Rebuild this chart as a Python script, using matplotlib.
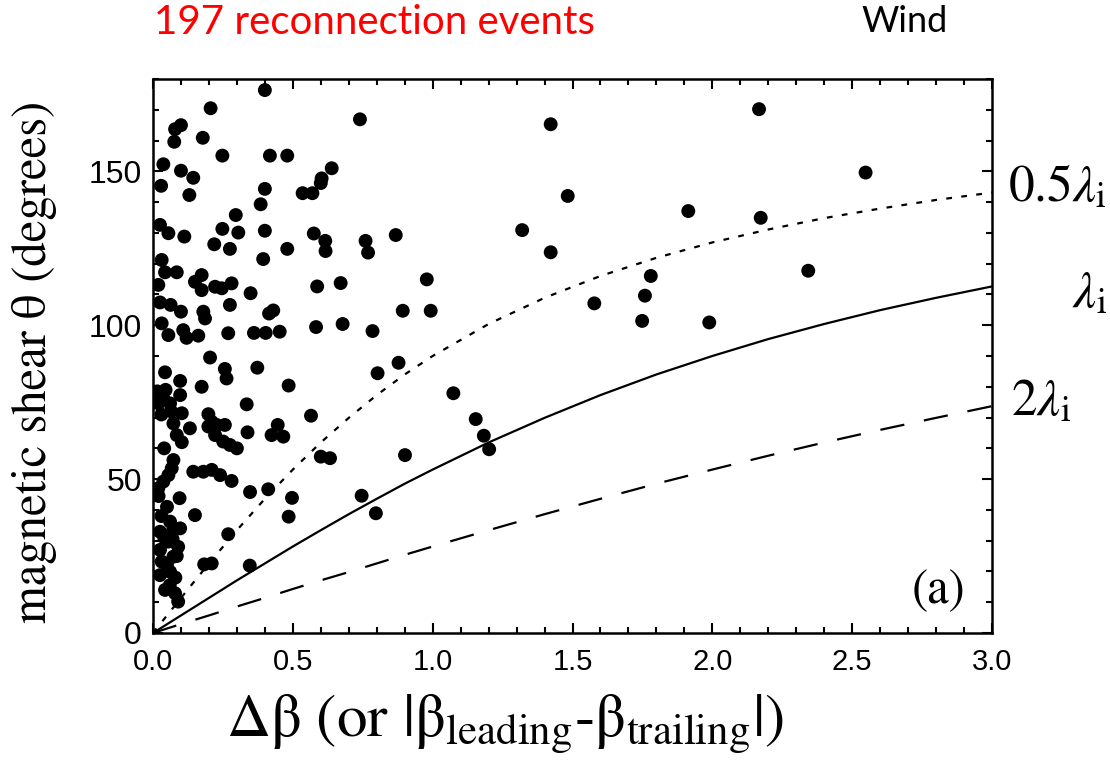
import matplotlib
matplotlib.use('Agg')
import numpy as np
import matplotlib.pyplot as plt
from matplotlib.ticker import MultipleLocator

# scatter: delta beta vs magnetic shear (degrees)
delta_beta = [
    0.40, 0.206, 0.10, 0.079, 0.076, 0.178, 0.248, 0.418, 0.48, 0.037,
    0.10, 0.144, 0.029, 0.13, 0.40, 0.385, 0.296, 0.639, 0.603, 0.60,
    0.535, 0.57, 0.74, 0.868, 0.394, 0.48, 0.575, 0.616, 0.617, 0.76,
    0.769, 0.587, 0.671, 0.583, 0.678, 0.785, 0.415, 0.43, 0.361, 0.403,
    0.453, 0.269, 0.275, 0.349, 0.204, 0.025, 0.055, 0.112, 0.248, 0.305,
    0.219, 0.275, 0.40, 0.031, 0.043, 0.085, 0.174, 0.15, 0.174, 0.222,
    0.246, 0.281, 0.019, 0.025, 0.063, 0.10, 0.18, 0.186, 0.031, 0.055,
    0.108, 0.12, 0.162, 0.043, 0.097, 0.257, 0.263, 0.373, 0.174, 0.485,
    0.019, 0.037, 0.061, 0.019, 0.097, 0.335, 0.103, 0.073, 0.132, 0.085,
    0.103, 0.198, 0.21, 0.228, 0.198, 0.257, 0.222, 0.251, 0.275, 0.30,
    0.338, 0.446, 0.424, 0.466, 0.565, 0.600, 0.633, 0.073, 0.067, 0.055,
    0.037, 0.019, 0.144, 0.18, 0.21, 0.24, 0.281, 0.347, 0.412, 0.497,
    0.095, 0.485, 0.15, 0.061, 0.097, 0.025, 0.055, 0.09, 0.025, 0.073,
    0.031, 0.061, 0.025, 0.043, 0.079, 0.09, 0.269, 0.183, 0.21, 0.346,
    1.422, 1.483, 1.914, 1.32, 1.422, 0.979, 0.893, 0.993, 1.578, 1.78,
    1.759, 1.749, 2.167, 2.548, 2.173, 2.343, 1.989, 0.878, 0.803, 1.074,
    1.154, 1.183, 1.202, 0.901, 0.797, 0.746,
    # events hidden inside the dense clump near the left axis
    0.040, 0.070, 0.050, 0.080, 0.060, 0.030, 0.050, 0.020, 0.045, 0.030,
    0.065, 0.085, 0.040, 0.015, 0.070,
]
shear = [
    176.4, 170.5, 165.0, 163.7, 159.6, 160.9, 155.1, 155.1, 155.1, 152.3,
    150.2, 147.9, 145.3, 142.3, 144.3, 139.3, 135.8, 151.0, 147.7, 146.2,
    142.9, 142.9, 166.9, 129.3, 121.5, 124.8, 129.8, 127.4, 124.1, 127.4,
    123.6, 112.6, 113.7, 99.4, 100.4, 98.1, 103.8, 104.8, 97.5, 97.5,
    97.9, 97.4, 106.6, 110.4, 89.5, 132.6, 129.9, 128.8, 131.3, 130.1,
    126.3, 124.8, 130.7, 121.2, 117.2, 117.2, 116.3, 114.1, 111.4, 112.5,
    112.0, 113.6, 113.1, 107.4, 106.6, 104.4, 104.4, 102.2, 100.6, 96.8,
    98.4, 95.9, 96.6, 84.7, 81.9, 85.8, 82.7, 86.2, 80.0, 80.4,
    77.9, 76.2, 74.6, 74.6, 77.3, 74.3, 71.4, 68.1, 66.5, 64.3,
    62.0, 71.1, 68.6, 67.6, 67.1, 67.6, 64.3, 62.2, 61.1, 60.0,
    65.2, 67.6, 64.3, 63.8, 70.6, 57.3, 56.8, 56.2, 53.5, 51.3,
    49.2, 47.0, 52.4, 52.4, 53.0, 51.3, 49.4, 45.8, 46.7, 43.9,
    43.8, 37.8, 38.3, 36.2, 34.0, 32.9, 29.7, 28.0, 27.0, 24.8,
    23.2, 19.9, 18.8, 14.0, 12.9, 10.2, 32.1, 22.3, 22.6, 21.9,
    165.3, 142.0, 137.1, 130.9, 123.7, 114.9, 104.7, 104.7, 107.1, 116.0,
    109.6, 101.4, 170.2, 149.6, 134.9, 117.7, 100.9, 87.8, 84.4, 77.9,
    69.5, 64.1, 59.7, 57.8, 38.9, 44.6,
    31.0, 30.5, 22.0, 18.0, 15.5, 38.0, 41.0, 44.5, 79.0, 71.0,
    72.0, 25.0, 60.0, 78.5, 33.0,
]

# threshold curves
curve_x = [0, 0.1, 0.2, 0.3, 0.4, 0.5, 0.6, 0.7, 0.8, 0.9, 1.0,
           1.2, 1.4, 1.6, 1.8, 2.0, 2.2, 2.4, 2.6, 2.8, 3.0]
half_lambda = [0, 11.4, 22.6, 33.4, 43.6, 53.1, 61.9, 69.9, 77.3, 84.0, 90.0,
               100.4, 108.9, 116.0, 121.9, 126.9, 131.1, 134.8, 137.9, 140.7, 143.1]
one_lambda = [0, 5.7, 11.4, 17.1, 22.6, 28.1, 33.4, 38.6, 43.6, 48.5, 53.1,
              61.9, 69.9, 77.3, 84.0, 90.0, 95.5, 100.4, 104.9, 108.9, 112.6]
two_lambda = [0, 2.9, 5.7, 8.6, 11.4, 14.3, 17.1, 19.8, 22.6, 25.4, 28.1,
              33.4, 38.6, 43.6, 48.5, 53.1, 57.6, 61.9, 66.0, 69.9, 73.7]

plt.rcParams['mathtext.fontset'] = 'stix'

W, H = 1110, 768
fig = plt.figure(figsize=(W / 100, H / 100), dpi=100)
ax = fig.add_axes([153 / W, 1 - 633 / H, (992 - 153) / W, (633 - 79) / H])

ax.plot(curve_x, half_lambda, color='black', lw=1.6, dashes=[2.6, 4.2], zorder=2)
ax.plot(curve_x, one_lambda, color='black', lw=1.6, zorder=2)
ax.plot(curve_x, two_lambda, color='black', lw=1.6, dashes=[11, 9], zorder=2)
ax.scatter(delta_beta, shear, s=100, color='black', edgecolors='none', zorder=3)

ax.set_xlim(0, 3.0)
ax.set_ylim(0, 180)
ax.xaxis.set_major_locator(MultipleLocator(0.5))
ax.xaxis.set_minor_locator(MultipleLocator(0.1))
ax.yaxis.set_major_locator(MultipleLocator(50))
ax.yaxis.set_minor_locator(MultipleLocator(10))
ax.xaxis.set_major_formatter(plt.FuncFormatter(lambda v, p: f'{v:.1f}'))
ax.tick_params(which='both', direction='in', top=True, right=True, width=1.5, colors='black')
ax.tick_params(which='major', length=7)
ax.tick_params(which='minor', length=4)
ax.tick_params(axis='x', labelsize=21, pad=11)
ax.tick_params(axis='y', labelsize=23, pad=8)
for lab in ax.get_xticklabels() + ax.get_yticklabels():
    lab.set_family('Liberation Sans')
for sp in ax.spines.values():
    sp.set_linewidth(1.8)

ax.set_ylabel('magnetic shear θ (degrees)', family='STIXGeneral', fontsize=35)
ax.yaxis.set_label_coords(-0.114, 0.49)
ax.set_xlabel(r'Δβ (or |β$_{\rm leading}$-β$_{\rm trailing}$|)', family='STIXGeneral',
              fontsize=44)
ax.xaxis.set_label_coords(0.42, -0.108)

ax.text(0.968, 0.074, '(a)', transform=ax.transAxes, ha='right', va='center',
        family='STIXGeneral', fontsize=35)

fig.text(1107 / W, 1 - 188 / H, r'0.5$\lambda_{\rm i}$', family='STIXGeneral',
         fontsize=37, va='center', ha='right')
fig.text(1107 / W, 1 - 295 / H, r'$\lambda_{\rm i}$', family='STIXGeneral',
         fontsize=37, va='center', ha='right')
fig.text(1011 / W, 1 - 403 / H, r'2$\lambda_{\rm i}$', family='STIXGeneral',
         fontsize=37, va='center', ha='left')

fig.text(375 / W, 1 - 22 / H, '197 reconnection events', color='#ff0000',
         family='Lato', fontsize=29, ha='center', va='center')
fig.text(905 / W, 1 - 22 / H, 'Wind', color='black',
         family='Lato', fontsize=26, ha='center', va='center')

fig.savefig('out.png', dpi=100)
